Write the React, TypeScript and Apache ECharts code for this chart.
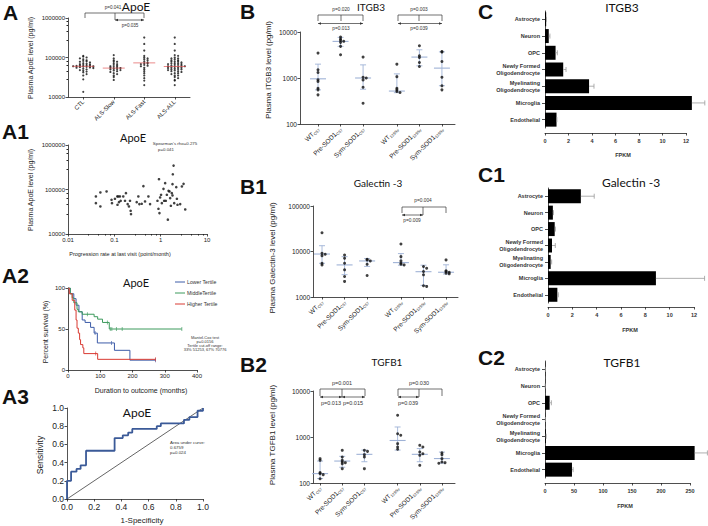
import React, { useEffect, useRef } from "react";
import * as echarts from "echarts";

const SANS = "'Liberation Sans', Arial, sans-serif";
const TITLE = "Lato, 'Liberation Sans', sans-serif";
const INK = "#222";
const SD_COL = "#9fb2d6";

// ---------- Panel A: plasma ApoE by group ----------
const aGroups = ["CTL", "ALS-Slow", "ALS-Fast", "ALS-ALL"];
const aCtl = [110000, 105000, 100000, 95000, 90000, 85000, 82000, 80000, 78000, 75000, 72000, 70000, 68000, 67000, 65000, 64000, 63000, 62000, 61000, 60000, 60000, 59000, 58000, 57000, 56000, 55000, 54000, 52000, 50000, 48000, 46000, 44000, 42000, 38000, 35000, 28000, 13500];
const aSlow = [115000, 95000, 85000, 80000, 78000, 72000, 68000, 65000, 62000, 60000, 58000, 57000, 55000, 54000, 52000, 51000, 50000, 48000, 47000, 45000, 43000, 40000, 38000, 35000, 32000, 27000];
const aFast = [320000, 220000, 150000, 110000, 100000, 95000, 90000, 85000, 80000, 75000, 72000, 70000, 68000, 65000, 62000, 60000, 55000, 50000, 45000, 40000, 35000, 30000, 26000, 20000];
const aAll = [...aSlow, ...aFast];
const aCenters = [60000, 54000, 73000, 59000];

// ---------- Panel A1: ApoE vs progression rate ----------
const a1Rate = [0.04, 0.04, 0.05, 0.05, 0.068, 0.087, 0.089, 0.103, 0.116, 0.117, 0.122, 0.126, 0.132, 0.137, 0.156, 0.17, 0.178, 0.194, 0.207, 0.218, 0.225, 0.229, 0.304, 0.33, 0.347, 0.39, 0.424, 0.46, 0.544, 0.591, 0.853, 0.896, 0.92, 0.942, 0.973, 1.02, 1.06, 1.15, 1.19, 1.25, 1.29, 1.36, 1.43, 1.48, 1.55, 1.6, 1.66, 1.74, 1.8, 1.8, 1.83, 1.9, 1.96, 2.17, 2.24, 2.31, 2.64, 2.87, 3.12, 3.39];
const a1Level = [69700, 49400, 85700, 41600, 90200, 58700, 49400, 61800, 69700, 45400, 69700, 52000, 69700, 55700, 69700, 55700, 82800, 47000, 41600, 55700, 33300, 28000, 52000, 69700, 47000, 47800, 119000, 53800, 69700, 47000, 55700, 36900, 170000, 29500, 66200, 76000, 49400, 103500, 55700, 139000, 55700, 76000, 21000, 93300, 90200, 64000, 43100, 82800, 73400, 132000, 220000, 344000, 49400, 113000, 61800, 45400, 47000, 117000, 134000, 35600];

// ---------- Panel A2: Kaplan-Meier by tertile ----------
const kmLower = [[0, 100], [7, 93], [18, 87], [25, 79], [34, 71], [44, 61], [53, 58], [70, 52], [81, 45], [91, 33], [144, 24], [192, 12], [271, 12]];
const kmMiddle = [[0, 100], [7, 93], [13, 88], [18, 82], [28, 74], [32, 71], [44, 68], [81, 65], [92, 62], [107, 58], [128, 50], [353, 50]];
const kmHigher = [[0, 100], [4, 93], [13, 85], [21, 73], [25, 61], [28, 51], [32, 45], [36, 37], [39, 31], [46, 27], [49, 20], [92, 13], [271, 13]];
const censLower = [84, 135, 271];
const censMiddle = [60, 122, 131, 136, 150, 168, 353];
const censHigher = [86, 271];

// ---------- Panel A3: ROC ----------
const rocFpr = [0, 0, 0.03, 0.03, 0.07, 0.07, 0.1, 0.1, 0.14, 0.14, 0.35, 0.35, 0.41, 0.41, 0.45, 0.45, 0.48, 0.48, 0.66, 0.66, 0.69, 0.69, 0.86, 0.86, 0.9, 0.9, 0.96, 0.96, 1, 1];
const rocTpr = [0, 0.2, 0.2, 0.3, 0.3, 0.33, 0.33, 0.37, 0.37, 0.53, 0.53, 0.67, 0.67, 0.7, 0.7, 0.73, 0.73, 0.77, 0.77, 0.8, 0.8, 0.83, 0.83, 0.87, 0.87, 0.9, 0.9, 0.97, 0.97, 1];

// ---------- Panels B: mouse plasma levels ----------
const bLabels = [["WT", "C57"], ["Pre-SOD1", "C57"], ["Sym-SOD1", "C57"], ["WT", "129Sv"], ["Pre-SOD1", "129Sv"], ["Sym-SOD1", "129Sv"]];
const bPos = [1, 2, 3, 4.5, 5.5, 6.5];

const itgb3Points = [
  [3480, 1510, 1320, 912, 840, 600, 552, 430],
  [7800, 7030, 6580, 6260, 5950, 4870, 3200],
  [2850, 1040, 1000, 910, 630, 283],
  [2000, 1070, 600, 552, 507, 483],
  [5030, 3050, 2800, 2180, 1780],
  [3780, 3660, 2290, 1040, 675, 552],
];
const itgb3Mean = [960, 6250, 1000, 520, 2850, 1640];
const itgb3Lo = [552, 4870, 570, 480, 1840, 680];
const itgb3Hi = [2000, 7650, 1930, 1230, 4100, 3700];

const gal3Points = [
  [25800, 9120, 8670, 8110, 5520, 5070],
  [8400, 7100, 5520, 3950, 2820, 2200],
  [6750, 6530, 6210, 5250, 2970],
  [14600, 7710, 6210, 5520, 5250, 5070],
  [4670, 4290, 3630, 3070, 1770, 1710],
  [6530, 3760, 3630, 3510, 3340, 3230],
];
const gal3Mean = [8800, 5070, 6200, 5700, 3600, 3500];
const gal3Lo = [5500, 3100, 4700, 5000, 1800, 3200];
const gal3Hi = [13400, 7700, 7000, 9000, 5000, 5100];

const tgfb1Points = [
  [338, 311, 168, 160, 152, 124],
  [513, 367, 311, 286, 277, 263, 205],
  [513, 487, 413, 367, 205],
  [2960, 1180, 1090, 716, 607, 540],
  [659, 607, 472, 434, 399, 242],
  [456, 413, 338, 286, 277, 268],
];
const tgfb1Mean = [160, 300, 420, 840, 420, 340];
const tgfb1Lo = [125, 220, 290, 520, 290, 270];
const tgfb1Hi = [300, 380, 520, 1650, 560, 470];

// ---------- Panels C: cell-type expression (FPKM) ----------
const cCells = ["Astrocyte", "Neuron", "OPC", "Newly Formed\nOligodendrocyte", "Myelinating\nOligodendrocyte", "Microglia", "Endothelial"];
const cItgb3 = [0.1, 0.32, 0.9, 1.55, 3.75, 12.5, 0.98];
const cItgb3Err = [0.02, 0.1, 0.15, 0.24, 0.42, 1.1, 0.03];
const cGal3 = [2.7, 0.4, 0.55, 0.33, 0.22, 8.87, 0.77];
const cGal3Err = [1.1, 0.05, 0.06, 0.27, 0.08, 4.0, 0.08];
const cTgfb1 = [0.5, 0.3, 8, 0.5, 1.5, 258, 46.5];
const cTgfb1Err = [0.2, 0.1, 3, 0.2, 0.5, 22, 2];

// ---------- helpers ----------
function merge(base: any, o: any) {
  const r: any = { ...base };
  for (const k in o) {
    const v = o[k];
    r[k] = v && typeof v === "object" && !Array.isArray(v) && base[k] && typeof base[k] === "object" ? { ...base[k], ...v } : v;
  }
  return r;
}
function axis(gridIndex: number, fs: number, o: any) {
  const base = {
    gridIndex,
    axisLine: { show: true, lineStyle: { color: INK, width: 0.8 } },
    axisTick: { show: true, length: 2.5, lineStyle: { color: INK, width: 0.8 } },
    axisLabel: { fontSize: fs, color: INK, fontFamily: SANS, margin: 3 },
    splitLine: { show: false },
    minorTick: { show: false },
    minorSplitLine: { show: false },
  };
  return merge(base, o);
}
// beeswarm layout: points of similar (log) value spread sideways
function swarm(values: number[], center: number, binW: number, step: number) {
  const sorted = values.slice().sort((a, b) => b - a);
  const bins = new Map<number, number>();
  return sorted.map((v) => {
    const b = Math.round(Math.log10(v) / binW);
    const k = bins.get(b) ?? 0;
    bins.set(b, k + 1);
    const off = k === 0 ? 0 : (k % 2 === 1 ? 1 : -1) * Math.ceil(k / 2) * step;
    return [center + off, v];
  });
}
const stepAt = (km: number[][], t: number) => {
  let v = km[0][1];
  for (const [tt, vv] of km) if (tt <= t) v = vv;
  return v;
};
const logLabel = (v: number) => (v >= 1 ? String(Math.round(v)) : String(Number(v.toPrecision(1))));

const txt = (x: number, y: number, text: string, size: number, extra: any = {}, el: any = {}) => ({
  type: "text",
  x,
  y,
  silent: true,
  ...el,
  style: { text, fontSize: size, fontFamily: SANS, fill: INK, align: "center", verticalAlign: "middle", ...extra },
});
const ln = (x1: number, y1: number, x2: number, y2: number, color = "#333", w = 0.7) => ({
  type: "line",
  silent: true,
  shape: { x1, y1, x2, y2 },
  style: { stroke: color, lineWidth: w },
});
const arrowHead = (x: number, y: number, dir: number) => ({
  type: "polygon",
  silent: true,
  shape: { points: [[x, y], [x - dir * 3, y - 1.3], [x - dir * 3, y + 1.3]] },
  style: { fill: "#333" },
});
const dblArrow = (x1: number, x2: number, y: number) => [ln(x1, y, x2, y), arrowHead(x1, y, -1), arrowHead(x2, y, 1)];
const bracket = (x1: number, x2: number, y: number, y2: number, mid?: number, midY?: number) => {
  const out: any[] = [ln(x1, y, x2, y), ln(x1, y, x1, y2), ln(x2, y, x2, y2)];
  if (mid !== undefined) out.push(ln(mid, y, mid, midY ?? y2));
  return out;
};

function bPanel(idx: number, points: number[][], mean: number[], lo: number[], hi: number[]) {
  const scatter = {
    type: "scatter",
    xAxisIndex: idx,
    yAxisIndex: idx,
    symbolSize: 3,
    itemStyle: { color: "#111" },
    z: 3,
    data: points.flatMap((vals, i) => swarm(vals, bPos[i], 0.05, 0.14)),
  };
  const err = {
    type: "custom",
    xAxisIndex: idx,
    yAxisIndex: idx,
    z: 2,
    encode: { x: 0, y: 1 },
    data: mean.map((m, i) => [bPos[i], m, lo[i], hi[i]]),
    renderItem: (_p: any, api: any) => {
      const x = api.value(0);
      const pm = api.coord([x, api.value(1)]);
      const pl = api.coord([x, api.value(2)]);
      const ph = api.coord([x, api.value(3)]);
      const st = { stroke: SD_COL, lineWidth: 0.9 };
      return {
        type: "group",
        children: [
          { type: "line", shape: { x1: pm[0] - 8, y1: pm[1], x2: pm[0] + 8, y2: pm[1] }, style: { ...st, lineWidth: 1.1 } },
          { type: "line", shape: { x1: pl[0], y1: pl[1], x2: ph[0], y2: ph[1] }, style: st },
          { type: "line", shape: { x1: ph[0] - 3, y1: ph[1], x2: ph[0] + 3, y2: ph[1] }, style: st },
          { type: "line", shape: { x1: pl[0] - 3, y1: pl[1], x2: pl[0] + 3, y2: pl[1] }, style: st },
        ],
      };
    },
  };
  return [err, scatter];
}

function cPanel(idx: number, vals: number[], errs: number[]) {
  return [
    {
      type: "bar",
      xAxisIndex: idx,
      yAxisIndex: idx,
      data: vals,
      barWidth: 14,
      clip: false,
      itemStyle: { color: "#000" },
    },
    {
      type: "custom",
      xAxisIndex: idx,
      yAxisIndex: idx,
      encode: { x: 0, y: 1 },
      z: 3,
      data: vals.map((v, i) => [v, i, errs[i]]),
      renderItem: (_p: any, api: any) => {
        const v = api.value(0);
        const i = api.value(1);
        const e = api.value(2);
        const p0 = api.coord([v, i]);
        const p1 = api.coord([v + e, i]);
        const st = { stroke: "#9a9a9a", lineWidth: 0.8 };
        return {
          type: "group",
          children: [
            { type: "line", shape: { x1: p0[0], y1: p0[1], x2: p1[0], y2: p1[1] }, style: st },
            { type: "line", shape: { x1: p1[0], y1: p1[1] - 2.5, x2: p1[0], y2: p1[1] + 2.5 }, style: st },
          ],
        };
      },
    },
  ];
}

function buildOption() {
  const grids = [
    { left: 68, top: 18, width: 122, height: 79 }, // A
    { left: 68, top: 145, width: 139, height: 89 }, // A1
    { left: 68, top: 288, width: 129, height: 82 }, // A2
    { left: 67, top: 408, width: 136, height: 91 }, // A3
    { left: 300, top: 32, width: 155, height: 92 }, // B
    { left: 313, top: 206, width: 145, height: 91 }, // B1
    { left: 313, top: 391, width: 142, height: 92 }, // B2
    { left: 545, top: 11, width: 141, height: 117 }, // C
    { left: 548, top: 188, width: 146, height: 115 }, // C1
    { left: 545, top: 361, width: 145, height: 117 }, // C2
  ].map((g) => ({ ...g, containLabel: false, outerBoundsMode: "none" }));

  const bLabelFmt = (v: number) => {
    const i = bPos.findIndex((p) => Math.abs(p - v) < 1e-6);
    if (i < 0) return "";
    return `{m|${bLabels[i][0]}}{s|${bLabels[i][1]}}`;
  };
  const bXAxis = (idx: number, min: number, max: number) =>
    axis(idx, 6.5, {
      type: "value",
      min,
      max,
      axisTick: { customValues: bPos },
      axisLabel: {
        customValues: bPos,
        rotate: 45,
        formatter: bLabelFmt,
        margin: 4,
        rich: { m: { fontSize: 6.5, fontFamily: SANS, color: INK }, s: { fontSize: 4, fontFamily: SANS, color: INK, padding: [4, 0, 0, 0] } },
      },
    });
  const bYAxis = (idx: number, min: number, max: number) =>
    axis(idx, 6.5, { type: "log", logBase: 10, min, max, axisLabel: { formatter: logLabel } });

  const cYAxis = (idx: number) =>
    axis(idx, 5.5, {
      type: "category",
      inverse: true,
      data: cCells,
      axisTick: { alignWithLabel: true, length: 3 },
      axisLabel: { fontWeight: "bold", lineHeight: 7, margin: 5, color: "#333" },
    });
  const cXAxis = (idx: number, max: number, interval: number, offset: number) =>
    axis(idx, 5.5, {
      type: "value",
      min: 0,
      max,
      interval,
      offset,
      axisLabel: { fontWeight: "bold", margin: 5, color: "#333" },
    });

  const xAxis = [
    axis(0, 6, {
      type: "value",
      min: 0.5,
      max: 4.5,
      axisTick: { customValues: [1, 2, 3, 4] },
      axisLabel: { customValues: [1, 2, 3, 4], rotate: 45, formatter: (v: number) => aGroups[Math.round(v) - 1] ?? "", margin: 4 },
    }),
    axis(1, 6, { type: "log", logBase: 10, min: 0.01, max: 10, axisLabel: { formatter: logLabel }, minorTick: { show: true, splitNumber: 5, length: 1.5, lineStyle: { color: INK } } }),
    axis(2, 6, { type: "value", min: 0, max: 400, interval: 100 }),
    axis(3, 8.5, { type: "value", min: 0, max: 1, interval: 0.2, axisLabel: { formatter: (v: number) => v.toFixed(1) }, axisLine: { lineStyle: { color: "#555" } } }),
    bXAxis(4, 0.2, 7.08),
    bXAxis(5, 0.6, 7.03),
    bXAxis(6, 0.68, 7.09),
    cXAxis(7, 12, 2, 5),
    cXAxis(8, 12, 2, 4),
    cXAxis(9, 250, 50, 5),
  ];
  const yAxis = [
    axis(0, 6, { type: "log", logBase: 10, min: 10000, max: 1000000, axisLabel: { formatter: logLabel }, minorTick: { show: true, splitNumber: 5, length: 1.5, lineStyle: { color: INK } } }),
    axis(1, 6, { type: "log", logBase: 10, min: 10000, max: 1000000, axisLabel: { formatter: logLabel }, minorTick: { show: true, splitNumber: 5, length: 1.5, lineStyle: { color: INK } } }),
    axis(2, 6, { type: "value", min: 0, max: 100, interval: 50 }),
    axis(3, 8.5, { type: "value", min: 0, max: 1, interval: 0.2, axisLabel: { formatter: (v: number) => v.toFixed(1) }, axisLine: { lineStyle: { color: "#555" } } }),
    bYAxis(4, 100, 10000),
    bYAxis(5, 1000, 100000),
    bYAxis(6, 100, 10000),
    cYAxis(7),
    cYAxis(8),
    cYAxis(9),
  ];

  const aGroupsVals = [aCtl, aSlow, aFast, aAll];
  const kmLine = (data: number[][], color: string) => ({
    type: "line",
    xAxisIndex: 2,
    yAxisIndex: 2,
    step: "end",
    showSymbol: false,
    data,
    lineStyle: { color, width: 1 },
    z: 2,
  });
  const kmCens = (km: number[][], times: number[], color: string) => ({
    type: "scatter",
    xAxisIndex: 2,
    yAxisIndex: 2,
    symbol: "rect",
    symbolSize: [0.8, 4],
    itemStyle: { color },
    data: times.map((t) => [t, stepAt(km, t)]),
    z: 3,
  });

  const series: any[] = [
    // A
    {
      type: "scatter",
      xAxisIndex: 0,
      yAxisIndex: 0,
      symbolSize: 2.2,
      itemStyle: { color: "#111" },
      data: aGroupsVals.flatMap((vals, i) => swarm(vals, i + 1, 0.05, 0.11)),
      z: 2,
    },
    {
      type: "scatter",
      xAxisIndex: 0,
      yAxisIndex: 0,
      symbol: "rect",
      symbolSize: [22, 0.8],
      itemStyle: { color: "#e04848" },
      data: aCenters.map((m, i) => [i + 1, m]),
      z: 3,
    },
    // A1
    {
      type: "scatter",
      xAxisIndex: 1,
      yAxisIndex: 1,
      symbolSize: 2.6,
      itemStyle: { color: "#111" },
      data: a1Rate.map((r, i) => [r, a1Level[i]]),
    },
    // A2
    kmLine(kmLower, "#3d5ca8"),
    kmLine(kmMiddle, "#3c9a5c"),
    kmLine(kmHigher, "#d93a32"),
    kmCens(kmLower, censLower, "#3d5ca8"),
    kmCens(kmMiddle, censMiddle, "#3c9a5c"),
    kmCens(kmHigher, censHigher, "#d93a32"),
    // A3
    {
      type: "line",
      xAxisIndex: 3,
      yAxisIndex: 3,
      showSymbol: false,
      data: [[0, 0], [1, 1]],
      lineStyle: { color: "#222", width: 0.7 },
    },
    {
      type: "line",
      xAxisIndex: 3,
      yAxisIndex: 3,
      showSymbol: false,
      data: rocFpr.map((f, i) => [f, rocTpr[i]]),
      lineStyle: { color: "#3b5a98", width: 1.8 },
      z: 3,
    },
    // B
    ...bPanel(4, itgb3Points, itgb3Mean, itgb3Lo, itgb3Hi),
    ...bPanel(5, gal3Points, gal3Mean, gal3Lo, gal3Hi),
    ...bPanel(6, tgfb1Points, tgfb1Mean, tgfb1Lo, tgfb1Hi),
    // C
    ...cPanel(7, cItgb3, cItgb3Err),
    ...cPanel(8, cGal3, cGal3Err),
    ...cPanel(9, cTgfb1, cTgfb1Err),
  ];

  const letter = (x: number, y: number, t: string) => txt(x, y, t, 21, { align: "left", fontWeight: "bold", fill: "#111" });
  const title = (x: number, y: number, t: string, fs: number) => txt(x, y, t, fs, { fontFamily: TITLE, fill: "#111" });
  const yName = (x: number, y: number, t: string, fs: number) => txt(x, y, t, fs, {}, { rotation: Math.PI / 2 });
  const small = (x: number, y: number, t: string, fs = 4.6, extra: any = {}) => txt(x, y, t, fs, { fill: "#333", ...extra });

  const graphic: any[] = [
    // letters
    letter(3, 12, "A"),
    letter(2, 131, "A1"),
    letter(2, 275, "A2"),
    letter(2, 396, "A3"),
    letter(240, 11, "B"),
    letter(240, 186, "B1"),
    letter(240, 364, "B2"),
    letter(478, 11, "C"),
    letter(478, 174, "C1"),
    letter(478, 357, "C2"),
    // titles
    title(136, 6, "ApoE", 12),
    title(133, 137, "ApoE", 11),
    title(136, 282, "ApoE", 11),
    title(137, 412, "ApoE", 12),
    title(371, 7, "ITGB3", 10),
    title(378, 183, "Galectin -3", 10),
    title(387, 362, "TGFB1", 10),
    title(622, 7, "ITGB3", 12),
    title(631, 182, "Galectin -3", 12),
    title(622, 362, "TGFB1", 12),
    // axis names
    yName(30, 58, "Plasma ApoE level (pg/ml)", 7),
    yName(30, 190, "Plasma ApoE level (pg/ml)", 7),
    txt(120, 254, "Progression rate at last visit (point/month)", 5.5),
    yName(45, 332, "Percent survival (%)", 7),
    txt(141, 390, "Duration to outcome (months)", 7),
    yName(40, 455, "Sensitivity", 8.5),
    txt(142, 520, "1-Specificity", 8),
    yName(268, 70, "Plasma ITGB3 level (pg/ml)", 8),
    yName(272, 258, "Plasma Galectin-3 level (pg/ml)", 8),
    yName(272, 435, "Plasma TGFB1 level (pg/ml)", 8),
    txt(623, 155, "FPKM", 5.5, { fontWeight: "bold", fill: "#333" }),
    txt(630, 330, "FPKM", 5.5, { fontWeight: "bold", fill: "#333" }),
    txt(625, 506, "FPKM", 5.5, { fontWeight: "bold", fill: "#333" }),
    // A brackets
    ...bracket(85, 144, 13, 18, 115, 20),
    ...dblArrow(115, 144, 20),
    small(113, 7, "p=0.041"),
    small(130, 25, "p=0.035"),
    // A1 stats
    small(175, 143.5, "Spearman's rho=0.275", 4.4),
    small(166, 149, "p=0.041", 4.4),
    // A2 legend
    ln(175, 282, 185, 282, "#3d5ca8", 1),
    ln(175, 293, 185, 293, "#3c9a5c", 1),
    ln(175, 304, 185, 304, "#d93a32", 1),
    small(187, 282, "Lower Tertile", 5.2, { align: "left" }),
    small(187, 293, "MiddleTertile", 5.2, { align: "left" }),
    small(187, 304, "Higher Tertile", 5.2, { align: "left" }),
    small(205, 337, "Mantel-Cox test", 4),
    small(205, 341, "p=0.0156", 4),
    small(205, 345, "Tertile cut-off range:", 4),
    small(205, 349, "33% 51253, 67% 70776", 4),
    // A3 stats
    small(170, 442, "Area under curve:", 4.4, { align: "left" }),
    small(170, 447, "0.6759", 4.4, { align: "left" }),
    small(170, 452, "p=0.024", 4.4, { align: "left" }),
    // B brackets
    ...bracket(318, 363, 15, 21, 341, 21),
    ...dblArrow(318, 363, 23.5),
    small(341, 9, "p=0.020", 4.8),
    small(341, 28.5, "p=0.013", 4.8),
    ...bracket(398, 442, 15, 21, 419, 21),
    ...dblArrow(398, 442, 23.5),
    small(419, 9, "p=0.003", 4.8),
    small(419, 28.5, "p=0.039", 4.8),
    // B1 brackets
    ...bracket(402, 446, 207, 213, 423, 215),
    ...dblArrow(402, 423, 215),
    small(423, 200, "p=0.004", 4.8),
    small(412, 220, "p=0.009", 4.8),
    // B2 brackets
    ...bracket(320, 365, 389, 396, 342, 397),
    ...dblArrow(320, 342, 397),
    ...dblArrow(342, 365, 397),
    small(342, 383, "p=0.001", 5.5),
    small(331, 403, "p=0.013", 5.5),
    small(353, 403, "p=0.015", 5.5),
    ...bracket(398, 442, 389, 396, 419, 397),
    ...dblArrow(398, 419, 397),
    small(419, 383, "p=0.030", 5.5),
    small(408, 403, "p=0.039", 5.5),
  ];

  return {
    animation: false,
    backgroundColor: "#fff",
    grid: grids,
    xAxis,
    yAxis,
    series,
    graphic,
  };
}

export default function App() {
  const ref = useRef<HTMLDivElement>(null);
  useEffect(() => {
    const chart = echarts.init(ref.current!, undefined, { renderer: "svg" });
    chart.setOption(buildOption() as any);
    return () => chart.dispose();
  }, []);
  return <div ref={ref} style={{ position: "fixed", left: 0, top: 0, width: 708, height: 526, background: "#fff" }} />;
}
